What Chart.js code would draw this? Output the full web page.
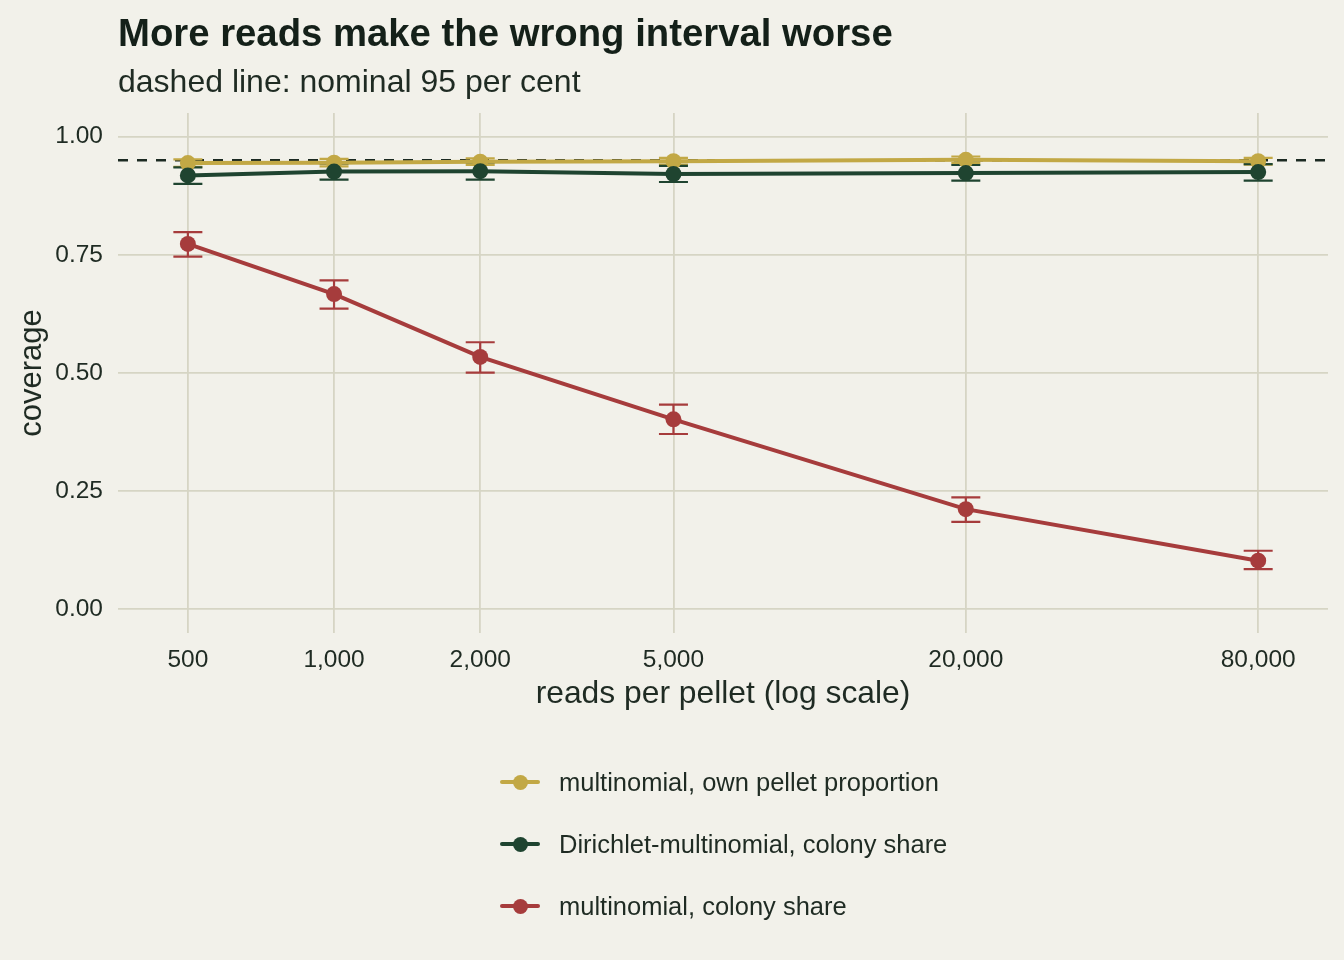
<!DOCTYPE html>
<html>
<head>
<meta charset="utf-8">
<script src="https://cdn.jsdelivr.net/npm/chart.js@4.4.1/dist/chart.umd.min.js"></script>
<style>
  html, body { margin: 0; padding: 0; background: #f2f1ea; }
  #wrap { position: relative; width: 1344px; height: 960px; background: #f2f1ea; font-family: "Liberation Sans", Arial, sans-serif; color: #1c2a22; }
  #chart { position: absolute; left: 0; top: 0; }
  .title { position: absolute; left: 118px; top: 14px; font-size: 38.3px; line-height: 38px; font-weight: bold; color: #142019; white-space: nowrap; }
  .subtitle { position: absolute; left: 118px; top: 65px; font-size: 32px; line-height: 32px; color: #1f2b23; white-space: nowrap; }
  .legend { position: absolute; left: 500px; top: 751px; }
  .leg-row { position: relative; height: 62px; display: flex; align-items: center; }
  .leg-key { position: relative; width: 40px; height: 40px; margin-right: 19px; }
  .leg-key .ln { position: absolute; left: 0; top: 18px; width: 40px; height: 4px; border-radius: 2px; }
  .leg-key .pt { position: absolute; left: 12.5px; top: 12.5px; width: 15px; height: 15px; border-radius: 50%; }
  .leg-txt { font-size: 25.5px; color: #1f2b23; white-space: nowrap; }
</style>
</head>
<body>
<div id="wrap">
  <canvas id="chart" width="1344" height="960"></canvas>
  <div class="title">More reads make the wrong interval worse</div>
  <div class="subtitle">dashed line: nominal 95 per cent</div>
  <div class="legend" id="legend"></div>
</div>
<script>
// ── Data ──────────────────────────────────────────────────────────────────────
const reads = [500, 1000, 2000, 5000, 20000, 80000];
const xTicks = [500, 1000, 2000, 5000, 20000, 80000];
const yTicks = [0, 0.25, 0.5, 0.75, 1.0];
const nominal = 0.95;

const seriesNames = ['multinomial, own pellet proportion', 'Dirichlet-multinomial, colony share', 'multinomial, colony share'];
const seriesColors = ['#c2a845', '#1f4430', '#a63c3c'];

const ownCov  = [0.944, 0.945, 0.947, 0.948, 0.951, 0.948];
const ownLo   = [0.936, 0.937, 0.940, 0.941, 0.944, 0.941];
const ownHi   = [0.952, 0.953, 0.954, 0.955, 0.958, 0.955];

const dmCov   = [0.918, 0.926, 0.927, 0.921, 0.923, 0.925];
const dmLo    = [0.900, 0.909, 0.909, 0.904, 0.907, 0.907];
const dmHi    = [0.935, 0.943, 0.945, 0.938, 0.940, 0.942];

const colCov  = [0.773, 0.667, 0.534, 0.402, 0.212, 0.103];
const colLo   = [0.746, 0.636, 0.501, 0.371, 0.185, 0.085];
const colHi   = [0.798, 0.696, 0.565, 0.433, 0.237, 0.124];

const covs = [ownCov, dmCov, colCov];
const los  = [ownLo, dmLo, colLo];
const his  = [ownHi, dmHi, colHi];
const drawOrder = [3, 2, 1];   // red on top, yellow at the bottom

// ── Plugins ───────────────────────────────────────────────────────────────────
const bgPlugin = {
  id: 'bg',
  beforeDraw(chart) {
    const c = chart.ctx;
    c.save(); c.fillStyle = '#f2f1ea'; c.fillRect(0, 0, chart.width, chart.height); c.restore();
  }
};

// nominal line + error bars go under the lines and points
const underlayPlugin = {
  id: 'underlay',
  beforeDatasetsDraw(chart) {
    const c = chart.ctx, xs = chart.scales.x, ys = chart.scales.y, a = chart.chartArea;
    c.save();
    const yn = ys.getPixelForValue(nominal);
    c.strokeStyle = '#1c2a22'; c.lineWidth = 2.5; c.setLineDash([10, 9]);
    c.beginPath(); c.moveTo(a.left, yn); c.lineTo(a.right, yn); c.stroke();
    c.setLineDash([]);
    [0, 1, 2].forEach(s => {
      c.strokeStyle = seriesColors[s]; c.lineWidth = 2.2;
      reads.forEach((r, i) => {
        const x = xs.getPixelForValue(r);
        const y1 = ys.getPixelForValue(los[s][i]), y2 = ys.getPixelForValue(his[s][i]);
        c.beginPath();
        c.moveTo(x, y1); c.lineTo(x, y2);
        c.moveTo(x - 14.5, y1); c.lineTo(x + 14.5, y1);
        c.moveTo(x - 14.5, y2); c.lineTo(x + 14.5, y2);
        c.stroke();
      });
    });
    c.restore();
  }
};

// ── Chart ─────────────────────────────────────────────────────────────────────
const datasets = seriesNames.map((name, s) => ({
  label: name,
  data: reads.map((r, i) => ({x: r, y: covs[s][i]})),
  borderColor: seriesColors[s],
  backgroundColor: seriesColors[s],
  borderWidth: 4,
  pointRadius: 8,
  pointBorderWidth: 0,
  pointHoverRadius: 8,
  tension: 0,
  order: drawOrder[s]
}));

const font = '"Liberation Sans", Arial, sans-serif';
const textCol = '#1f2b23';
const gridCol = '#d6d5c4';

new Chart(document.getElementById('chart'), {
  type: 'line',
  data: {datasets},
  options: {
    responsive: false,
    devicePixelRatio: 1,
    animation: false,
    layout: {padding: {left: 0, right: 16, top: 113, bottom: 240}},
    plugins: {legend: {display: false}, tooltip: {enabled: false}},
    scales: {
      x: {
        type: 'logarithmic',
        min: 359, max: 111400,
        afterBuildTicks: sc => { sc.ticks = xTicks.map(v => ({value: v})); },
        afterFit: sc => { sc.height = 87; },
        ticks: {
          autoSkip: false, maxRotation: 0, padding: 13,
          color: textCol, font: {family: font, size: 24.5},
          callback: v => Number(v).toLocaleString('en-US')
        },
        grid: {color: gridCol, lineWidth: 1.8, drawTicks: false},
        border: {display: false},
        title: {display: true, text: 'reads per pellet (log scale)', color: textCol,
                font: {family: font, size: 31.8}, padding: {top: 0, bottom: 7}}
      },
      y: {
        min: -0.05, max: 1.05,
        afterBuildTicks: sc => { sc.ticks = yTicks.map(v => ({value: v})); },
        afterFit: sc => { sc.width = 118; },
        ticks: {
          padding: 15, color: textCol, font: {family: font, size: 24.5},
          callback: v => Number(v).toFixed(2)
        },
        grid: {color: gridCol, lineWidth: 1.8, drawTicks: false},
        border: {display: false},
        title: {display: true, text: 'coverage', color: textCol,
                font: {family: font, size: 31}, padding: {top: 14, bottom: 0}}
      }
    }
  },
  plugins: [bgPlugin, underlayPlugin]
});

// ── Legend ────────────────────────────────────────────────────────────────────
document.getElementById('legend').innerHTML = seriesNames.map((n, s) =>
  `<div class="leg-row"><div class="leg-key"><div class="ln" style="background:${seriesColors[s]}"></div><div class="pt" style="background:${seriesColors[s]}"></div></div><div class="leg-txt">${n}</div></div>`
).join('');
</script>
</body>
</html>
